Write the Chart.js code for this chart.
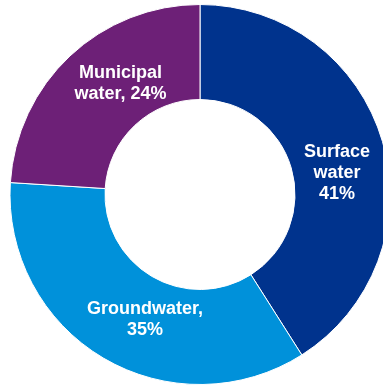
<!DOCTYPE html>
<html lang="en">
<head>
    <meta charset="UTF-8">
    <title>Water sources</title>
    <style>
        html, body { margin: 0; padding: 0; background: #fff; overflow: hidden; }
        #wrap { width: 400px; height: 390px; }
    </style>
</head>
<body>
    <div id="wrap"><canvas id="chart" width="400" height="390"></canvas></div>

    <script src="https://cdn.jsdelivr.net/npm/chart.js"></script>
    <script>
        const categories = ['Surface water', 'Groundwater', 'Municipal water'];
        const shares = [41, 35, 24];
        const labelLines = [
            ['Surface', 'water', '41%'],
            ['Groundwater,', '35%'],
            ['Municipal', 'water, 24%']
        ];
        const colors = ['#00338D', '#0091DA', '#6D2077'];

        // small hand nudges so the labels sit where the original put them
        const labelNudge = [[3, 17], [16, 5], [16, -9]];

        const sliceLabels = {
            id: 'sliceLabels',
            afterDatasetsDraw(chart) {
                const ctx = chart.ctx;
                const meta = chart.getDatasetMeta(0);
                ctx.save();
                ctx.fillStyle = '#fff';
                ctx.font = 'bold 18px "Liberation Sans", Arial, sans-serif';
                ctx.textAlign = 'center';
                ctx.textBaseline = 'middle';
                const lh = 21;
                meta.data.forEach((arc, i) => {
                    const p = arc.getProps(['x', 'y', 'startAngle', 'endAngle', 'innerRadius', 'outerRadius']);
                    const mid = (p.startAngle + p.endAngle) / 2;
                    const r = (p.innerRadius + p.outerRadius) / 2 - 3;
                    const cx = p.x + Math.cos(mid) * r + labelNudge[i][0];
                    const cy = p.y + Math.sin(mid) * r + labelNudge[i][1];
                    const lines = labelLines[i];
                    lines.forEach((t, j) => {
                        ctx.fillText(t, cx, cy + (j - (lines.length - 1) / 2) * lh);
                    });
                });
                ctx.restore();
            }
        };

        new Chart(document.getElementById('chart'), {
            type: 'doughnut',
            data: {
                labels: categories,
                datasets: [{
                    data: shares,
                    backgroundColor: colors,
                    borderColor: '#fff',
                    borderWidth: 1
                }]
            },
            options: {
                responsive: false,
                animation: false,
                cutout: '50%',
                layout: { padding: { top: 4, bottom: 5 } },
                plugins: {
                    legend: { display: false },
                    tooltip: { enabled: false }
                }
            },
            plugins: [sliceLabels]
        });
    </script>
</body>
</html>
